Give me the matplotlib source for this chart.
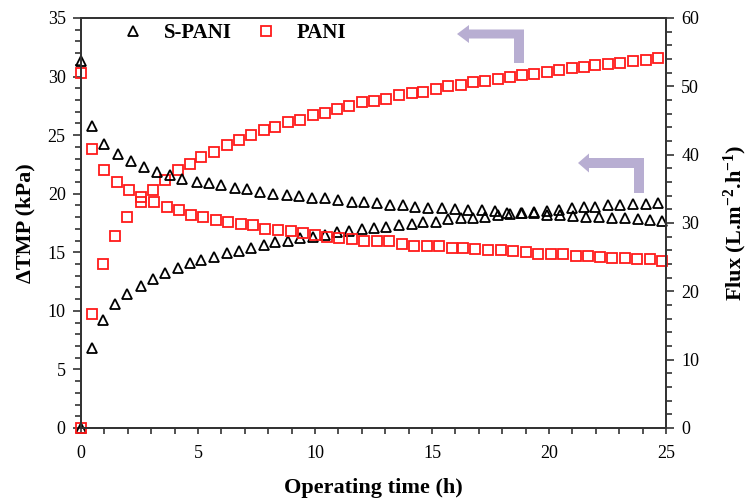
import matplotlib
matplotlib.use("Agg")
import matplotlib.pyplot as plt
from matplotlib.patches import Polygon
from matplotlib.lines import Line2D

plt.rcParams['font.family'] = ['Liberation Serif', 'DejaVu Serif']
plt.rcParams['mathtext.default'] = 'regular'

# ---- data ----
t_tmp = [0, 0.48, 0.95, 1.45, 1.98, 2.55, 3.06, 3.59, 4.13, 4.65, 5.13, 5.67, 6.23, 6.75,
         7.26, 7.82, 8.29, 8.83, 9.37, 9.90, 10.43, 10.95, 11.47, 12.00, 12.52, 13.03, 13.59,
         14.13, 14.63, 15.16, 15.67, 16.23, 16.74, 17.26, 17.83, 18.33, 18.83, 19.37, 19.90,
         20.43, 20.98, 21.51, 21.97, 22.51, 23.05, 23.58, 24.13, 24.65]
tmp_pani = [0, 9.7, 14.0, 16.4, 18.0, 19.3, 20.3, 21.2, 22.0, 22.5, 23.1, 23.6, 24.2, 24.6,
            25.0, 25.4, 25.7, 26.1, 26.3, 26.7, 26.9, 27.2, 27.5, 27.8, 27.9, 28.1, 28.4,
            28.6, 28.7, 28.9, 29.2, 29.3, 29.5, 29.6, 29.8, 30.0, 30.1, 30.2, 30.4, 30.6,
            30.7, 30.8, 31.0, 31.1, 31.2, 31.3, 31.4, 31.6]
tmp_spani = [0, 6.8, 9.2, 10.6, 11.4, 12.1, 12.7, 13.2, 13.7, 14.1, 14.3, 14.6, 14.9, 15.1,
             15.4, 15.6, 15.9, 16.0, 16.2, 16.3, 16.5, 16.7, 16.8, 17.0, 17.1, 17.2, 17.3,
             17.4, 17.6, 17.6, 17.8, 17.9, 17.95, 18.05, 18.15, 18.25, 18.35, 18.45, 18.55,
             18.65, 18.75, 18.85, 18.9, 19.0, 19.05, 19.1, 19.15, 19.2]

t_flux_pani = [0, 0.46, 0.98, 1.52, 2.05, 2.55, 3.12, 3.66, 4.20, 4.70, 5.20, 5.75, 6.28,
               6.82, 7.34, 7.86, 8.41, 8.96, 9.50, 10.0, 10.53, 11.03, 11.57, 12.11, 12.64,
               13.18, 13.73, 14.23, 14.77, 15.31, 15.84, 16.31, 16.84, 17.38, 17.94, 18.47,
               19.02, 19.54, 20.09, 20.61, 21.14, 21.65, 22.18, 22.71, 23.24, 23.77, 24.32, 24.84]
flux_pani = [51.9, 40.8, 37.7, 36.0, 34.8, 33.8, 33.1, 32.4, 31.9, 31.2, 30.9, 30.5, 30.2,
             29.8, 29.7, 29.1, 29.0, 28.8, 28.6, 28.3, 27.9, 27.8, 27.6, 27.4, 27.4, 27.3,
             26.9, 26.7, 26.7, 26.6, 26.4, 26.4, 26.2, 26.1, 26.1, 25.9, 25.8, 25.5, 25.4,
             25.4, 25.2, 25.2, 25.0, 24.9, 24.9, 24.7, 24.7, 24.5]

t_flux_spani = [0, 0.48, 1.00, 1.57, 2.14, 2.69, 3.25, 3.80, 4.33, 4.94, 5.48, 6.00, 6.58,
                7.11, 7.65, 8.22, 8.79, 9.33, 9.86, 10.44, 10.97, 11.57, 12.11, 12.64, 13.21,
                13.75, 14.27, 14.84, 15.41, 15.98, 16.55, 17.12, 17.69, 18.22, 18.80, 19.36,
                19.91, 20.47, 21.03, 21.58, 22.14, 22.69, 23.25, 23.80, 24.32, 24.84]
flux_spani = [53.7, 44.2, 41.5, 40.1, 39.1, 38.2, 37.5, 37.0, 36.5, 36.0, 35.8, 35.5, 35.1,
              35.0, 34.5, 34.3, 34.1, 33.9, 33.6, 33.6, 33.3, 33.1, 33.1, 32.9, 32.7, 32.6,
              32.4, 32.2, 32.2, 32.1, 31.9, 31.9, 31.7, 31.5, 31.5, 31.4, 31.2, 31.1, 31.0,
              30.9, 30.9, 30.8, 30.7, 30.6, 30.5, 30.3]

series_labels = ["S-PANI", "PANI"]
x_label = "Operating time (h)"
y_label_left = "ΔTMP (kPa)"
y_label_right = "Flux (L.m$^{-2}$.h$^{-1}$)"

# ---- figure ----
fig = plt.figure(figsize=(7.48, 5.0), dpi=100)
ax = fig.add_axes([81/748, 1-428/500, (666-81)/748, (428-18)/500])
ax2 = ax.twinx()

red = '#ff1a1a'
sq = dict(marker='s', ls='none', ms=7, mfc='none', mec=red, mew=1.3, clip_on=False)
tri = dict(marker='^', ls='none', ms=7.5, mfc='none', mec='black', mew=1.3, clip_on=False)

ax.plot(t_tmp, tmp_spani, **tri)
ax.plot(t_tmp, tmp_pani, **sq)
ax2.plot(t_flux_spani, flux_spani, **tri)
ax2.plot(t_flux_pani, flux_pani, **sq)

ax.set_xlim(0, 25)
ax.set_ylim(0, 35)
ax2.set_ylim(0, 60)
ax.set_xticks(range(0, 26, 5))
ax.set_xticks(range(0, 26, 1), minor=True)
ax.set_yticks(range(0, 36, 5))
ax.set_yticks(range(0, 36, 1), minor=True)
ax2.set_yticks(range(0, 61, 10))
ax2.set_yticks(range(0, 61, 2), minor=True)

spine_c = '#333333'
for a in (ax, ax2):
    for s in a.spines.values():
        s.set_linewidth(1.3)
        s.set_color(spine_c)
ax.tick_params(axis='both', which='major', direction='out', length=6, width=1.2,
               color=spine_c, labelsize=13, pad=5)
ax.tick_params(axis='both', which='minor', direction='out', length=4, width=1.2, color=spine_c)
ax.tick_params(axis='x', which='major', length=4, pad=8)
ax2.tick_params(axis='y', which='major', direction='out', length=6, width=1.2,
                color=spine_c, labelsize=13, pad=5)
ax2.tick_params(axis='y', which='minor', direction='out', length=4, width=1.2, color=spine_c)

ax.set_xlabel(x_label, fontsize=16, fontweight='bold', labelpad=12)
ax.set_ylabel(y_label_left, fontsize=16, fontweight='bold', labelpad=9)
ax2.set_ylabel(y_label_right, fontsize=16, fontweight='bold', labelpad=16)

fs_leg = 15
handles = [Line2D([], [], **{k: v for k, v in tri.items() if k != 'clip_on'}),
           Line2D([], [], **{k: v for k, v in sq.items() if k != 'clip_on'})]
hl_px = fs_leg * 100 / 72
leg = ax.legend(handles, series_labels, loc='center left',
                bbox_to_anchor=((133 - hl_px / 2 - 81) / 585, (428 - 33) / 410),
                ncol=2, frameon=False, prop={'weight': 'bold', 'size': fs_leg},
                handletextpad=1.0, columnspacing=1.1, handlelength=1.0,
                borderpad=0, borderaxespad=0)

# ---- arrows (decorations, axes-fraction coordinates) ----
arrow_c = '#b8aed2'
W, H = 666-81, 428-18
def px(x, y):
    return ((x-81)/W, (428-y)/H)

def bent_arrow(tip_x, tip_y, head_len, head_half, bar_half, stem_right, stem_w, stem_bottom):
    hx = tip_x + head_len
    pts = [px(tip_x, tip_y), px(hx, tip_y - head_half), px(hx, tip_y - bar_half),
           px(stem_right, tip_y - bar_half), px(stem_right, stem_bottom),
           px(stem_right - stem_w, stem_bottom), px(stem_right - stem_w, tip_y + bar_half),
           px(hx, tip_y + bar_half), px(hx, tip_y + head_half)]
    ax.add_patch(Polygon(pts, closed=True, transform=ax.transAxes, facecolor=arrow_c,
                         edgecolor='none', clip_on=False, zorder=1))

bent_arrow(457, 34, 12, 9, 4.5, 524, 10, 63)
bent_arrow(578, 163, 11, 9.5, 5, 644, 10, 193)

fig.savefig("out.png", dpi=100)
